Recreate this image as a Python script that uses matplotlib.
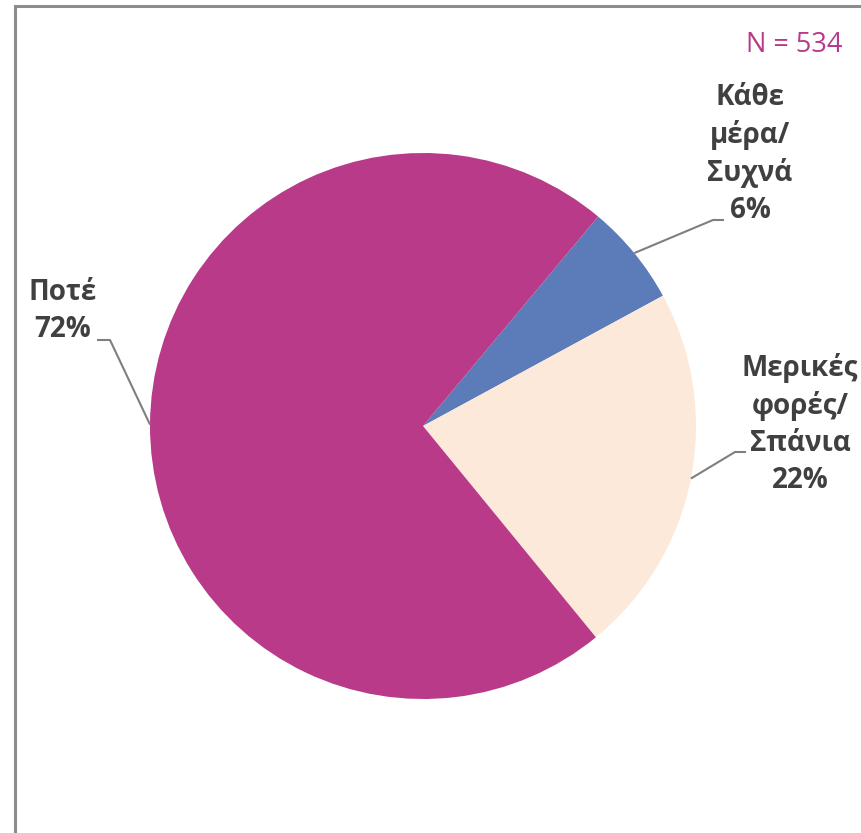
import matplotlib
matplotlib.use("Agg")
import matplotlib.pyplot as plt
import numpy as np

categories = ["Κάθε\nμέρα/\nΣυχνά", "Μερικές\nφορές/\nΣπάνια", "Ποτέ"]
values = [6, 22, 72]
colors = ["#5B7BB9", "#FDE9DA", "#B83A88"]
n_label = "N = 534"

W, H = 861, 833
fig = plt.figure(figsize=(W / 100, H / 100), dpi=100)
ax = fig.add_axes([0, 0, 1, 1])

cx, cy, r = 423, H - 426, 273
wedges, _ = ax.pie(values, colors=colors, startangle=50.1, counterclock=False,
                   center=(cx, cy), radius=r,
                   wedgeprops=dict(linewidth=0))
ax.set_xlim(0, W)
ax.set_ylim(0, H)
ax.set_aspect("equal")
ax.axis("off")

font = ["Open Sans", "DejaVu Sans"]
tcol = "#404040"
lcol = "#7F7F7F"

# label layout: (text x, text y(center), elbow point, line end)
layouts = [
    dict(tx=750, ty=H - 154, elbow=(713, H - 220), end=(724, H - 220)),
    dict(tx=800, ty=H - 424, elbow=(735, H - 452), end=(746, H - 452)),
    dict(tx=63, ty=H - 311, elbow=(110, H - 340), end=(97, H - 340)),
]

for w, cat, v, lay in zip(wedges, categories, values, layouts):
    mid = np.deg2rad((w.theta1 + w.theta2) / 2)
    px, py = cx + r * np.cos(mid), cy + r * np.sin(mid)
    ex, ey = lay["elbow"]
    fx, fy = lay["end"]
    ax.plot([px, ex, fx], [py, ey, fy], color=lcol, lw=1.5, solid_capstyle="butt")
    ax.text(lay["tx"], lay["ty"], cat + "\n" + f"{v}%", ha="center", va="center",
            fontsize=20, fontweight="bold", color=tcol, family=font,
            linespacing=1.35)

ax.text(842, H - 45, n_label, ha="right", va="center", fontsize=19.5,
        color="#B83A88", family=font)

# chart frame (left and top edges visible)
ax.plot([15, 15, W + 5], [-5, H - 6, H - 6], color="#8C8C8C", lw=2.2,
        solid_joinstyle="miter", clip_on=False)

fig.savefig("out.png", dpi=100)
